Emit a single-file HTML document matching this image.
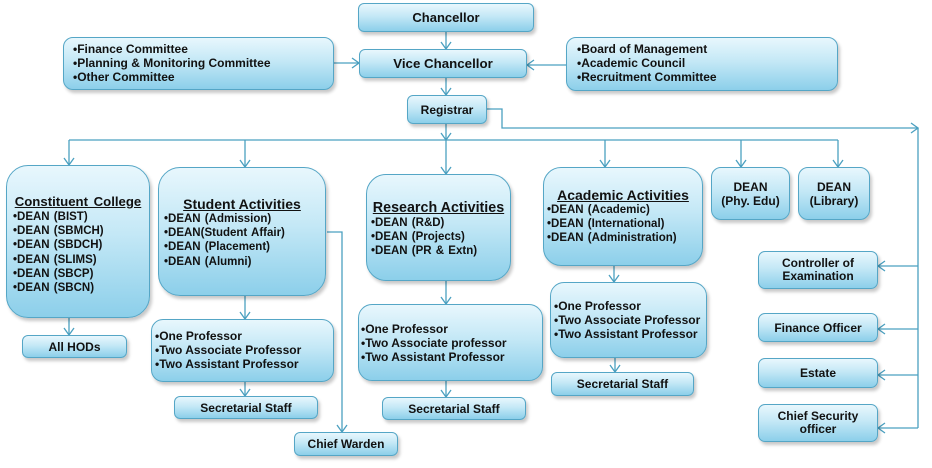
<!DOCTYPE html>
<html><head><meta charset="utf-8">
<style>
html,body{margin:0;padding:0;background:#fff;}
#c{position:relative;width:932px;height:468px;overflow:hidden;background:#fff;font-family:"Liberation Sans",Arial,sans-serif;font-weight:bold;color:#111;}
.b{position:absolute;box-sizing:border-box;border:1px solid #55a6c6;background:linear-gradient(to bottom,#e8f7fd 0%,#c4e8f6 45%,#8ccfea 100%);box-shadow:2px 3px 3px rgba(0,0,0,0.22);border-radius:6px;}
.ctr{display:flex;align-items:center;justify-content:center;text-align:center;font-size:12px;line-height:14px;}
.lst{font-size:12px;line-height:14.2px;white-space:nowrap;}
.lst .h{font-size:14px;line-height:16px;text-decoration:underline;text-align:center;}
.d{font-size:11.5px;word-spacing:1px;}
svg{position:absolute;left:0;top:0;}
</style></head><body><div id="c">
<svg width="932" height="468" viewBox="0 0 932 468">
<g stroke="#4ba0c0" stroke-width="1.3" fill="none">
<!-- chancellor -> vc -->
<line x1="446" y1="32" x2="446" y2="49"/><polyline points="441,42 446,49 451,42"/>
<!-- committees -->
<line x1="334" y1="63" x2="359" y2="63"/><polyline points="352,58 359,63 352,68"/>
<line x1="566" y1="65" x2="527" y2="65"/><polyline points="534,60 527,65 534,70"/>
<!-- vc -> registrar -->
<line x1="446" y1="78" x2="446" y2="95"/><polyline points="441,88 446,95 451,88"/>
<!-- registrar down -->
<line x1="446" y1="124" x2="446" y2="174"/><polyline points="441,133 446,140 451,133"/><polyline points="441,167 446,174 451,167"/>
<!-- bus -->
<line x1="69" y1="140" x2="838" y2="140"/>
<line x1="69" y1="140" x2="69" y2="165"/><polyline points="64,158 69,165 74,158"/>
<line x1="245" y1="140" x2="245" y2="167"/><polyline points="240,160 245,167 250,160"/>
<line x1="605" y1="140" x2="605" y2="167"/><polyline points="600,160 605,167 610,160"/>
<line x1="741" y1="140" x2="741" y2="167"/><polyline points="736,160 741,167 746,160"/>
<line x1="838" y1="140" x2="838" y2="167"/><polyline points="833,160 838,167 843,160"/>
<!-- registrar right -->
<polyline points="487,109 502,109 502,128 918,128"/><polyline points="911,123 918,128 911,133"/>
<line x1="918" y1="128" x2="918" y2="428"/>
<line x1="918" y1="266" x2="878" y2="266"/><polyline points="885,261 878,266 885,271"/>
<line x1="918" y1="329" x2="878" y2="329"/><polyline points="885,324 878,329 885,334"/>
<line x1="918" y1="375" x2="878" y2="375"/><polyline points="885,370 878,375 885,380"/>
<line x1="918" y1="428" x2="878" y2="428"/><polyline points="885,423 878,428 885,433"/>
<!-- constituent -> hods -->
<line x1="69" y1="318" x2="69" y2="335"/><polyline points="64,328 69,335 74,328"/>
<!-- student -->
<line x1="245" y1="296" x2="245" y2="319"/><polyline points="240,312 245,319 250,312"/>
<line x1="245" y1="382" x2="245" y2="396"/><polyline points="240,389 245,396 250,389"/>
<polyline points="327,232 342,232 342,432"/><polyline points="337,425 342,432 347,425"/>
<!-- research -->
<line x1="446" y1="281" x2="446" y2="304"/><polyline points="441,297 446,304 451,297"/>
<line x1="446" y1="381" x2="446" y2="397"/><polyline points="441,390 446,397 451,390"/>
<!-- academic -->
<line x1="614" y1="266" x2="614" y2="282"/><polyline points="609,275 614,282 619,275"/>
<line x1="615" y1="358" x2="615" y2="372"/><polyline points="610,365 615,372 620,365"/>
</g>
</svg>

<div class="b ctr" style="left:358px;top:3px;width:176px;height:29px;font-size:13px;">Chancellor</div>
<div class="b ctr" style="left:359px;top:49px;width:168px;height:29px;font-size:13.3px;">Vice Chancellor</div>
<div class="b ctr" style="left:407px;top:95px;width:80px;height:29px;">Registrar</div>

<div class="b lst" style="left:63px;top:37px;width:271px;height:53px;border-radius:10px;padding:4px 0 0 9px;">•Finance Committee<br>•Planning &amp; Monitoring Committee<br>•Other Committee</div>
<div class="b lst" style="left:566px;top:37px;width:272px;height:54px;border-radius:10px;padding:4px 0 0 10px;">•Board of Management<br>•Academic Council<br>•Recruitment Committee</div>

<div class="b lst" style="left:6px;top:165px;width:144px;height:153px;border-radius:22px;padding:28px 0 0 6px;"><div class="h" style="font-size:13.2px;margin-left:-6px;word-spacing:2px;">Constituent College</div><div class="d">•DEAN (BIST)<br>•DEAN (SBMCH)<br>•DEAN (SBDCH)<br>•DEAN (SLIMS)<br>•DEAN (SBCP)<br>•DEAN (SBCN)</div></div>

<div class="b lst" style="left:158px;top:167px;width:168px;height:129px;border-radius:22px;padding:28px 0 0 5px;"><div class="h" style="margin-left:-5px;">Student Activities</div><div class="d">•DEAN (Admission)<br>•DEAN(Student Affair)<br>•DEAN (Placement)<br>•DEAN (Alumni)</div></div>

<div class="b lst" style="left:366px;top:174px;width:145px;height:107px;border-radius:20px;padding:25px 0 0 4px;"><div class="h" style="margin-left:-4px;font-size:14.3px;">Research Activities</div><div class="d">•DEAN (R&amp;D)<br>•DEAN (Projects)<br>•DEAN (PR &amp; Extn)</div></div>

<div class="b lst" style="left:543px;top:167px;width:160px;height:99px;border-radius:18px;padding:19px 0 0 3px;"><div class="h" style="margin-left:-3px;">Academic Activities</div><div class="d">•DEAN (Academic)<br>•DEAN (International)<br>•DEAN (Administration)</div></div>

<div class="b ctr" style="left:711px;top:167px;width:79px;height:53px;border-radius:10px;">DEAN<br>(Phy. Edu)</div>
<div class="b ctr" style="left:798px;top:167px;width:72px;height:53px;border-radius:10px;">DEAN<br>(Library)</div>

<div class="b ctr" style="left:758px;top:251px;width:120px;height:38px;border-radius:7px;line-height:13.5px;">Controller of<br>Examination</div>
<div class="b ctr" style="left:758px;top:313px;width:120px;height:29px;border-radius:7px;">Finance Officer</div>
<div class="b ctr" style="left:758px;top:358px;width:120px;height:30px;border-radius:7px;">Estate</div>
<div class="b ctr" style="left:758px;top:404px;width:120px;height:38px;border-radius:7px;line-height:13.5px;">Chief Security<br>officer</div>

<div class="b ctr" style="left:22px;top:335px;width:105px;height:23px;">All HODs</div>

<div class="b lst" style="left:151px;top:319px;width:183px;height:63px;border-radius:12px;padding:9px 0 0 3px;">•One Professor<br>•Two Associate Professor<br>•Two Assistant Professor</div>
<div class="b ctr" style="left:174px;top:396px;width:144px;height:23px;">Secretarial Staff</div>
<div class="b ctr" style="left:294px;top:432px;width:104px;height:24px;">Chief Warden</div>

<div class="b lst" style="left:358px;top:304px;width:185px;height:77px;border-radius:14px;padding:17px 0 0 2px;">•One Professor<br>•Two Associate professor<br>•Two Assistant Professor</div>
<div class="b ctr" style="left:382px;top:397px;width:144px;height:23px;">Secretarial Staff</div>

<div class="b lst" style="left:550px;top:282px;width:157px;height:76px;border-radius:14px;padding:16px 0 0 3px;">•One Professor<br>•Two Associate Professor<br>•Two Assistant Professor</div>
<div class="b ctr" style="left:551px;top:372px;width:143px;height:24px;">Secretarial Staff</div>
</div></body></html>
